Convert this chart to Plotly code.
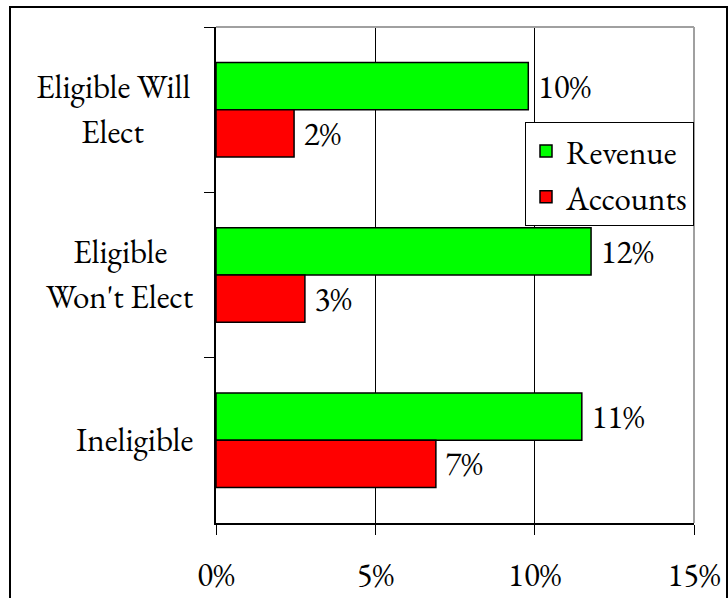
import plotly.graph_objects as go

# Category labels (top to bottom) and the line pieces shown beside the axis
categories = ["Eligible Will Elect", "Eligible Won't Elect", "Ineligible"]
label_lines = [["Eligible Will", "Elect"], ["Eligible", "Won't Elect"], ["Ineligible"]]

# Shares by segment
revenue = [0.098, 0.1177, 0.1148]
accounts = [0.0245, 0.0279, 0.069]

x_ticks = [0, 0.05, 0.10, 0.15]

FONT = "Garamond, 'EB Garamond', 'Liberation Serif', serif"
FS = 33

W, H = 728, 598
L, R, T, B = 216, 34, 27, 75
PW = W - L - R
PH = H - T - B


def paper_x(px):
    return (px - L) / PW


def paper_y(py):
    return (H - B - py) / PH


fig = go.Figure()
fig.add_trace(go.Bar(
    name="Revenue", y=categories, x=revenue, orientation="h",
    marker=dict(color="#00ff00", line=dict(color="black", width=1.5)),
    texttemplate="\u00a0%{x:.0%}", textposition="outside",
    textfont=dict(family=FONT, size=FS, color="black"),
    cliponaxis=False, legendgroup="rev",
))
fig.add_trace(go.Bar(
    name="Accounts", y=categories, x=accounts, orientation="h",
    marker=dict(color="#ff0000", line=dict(color="black", width=1.5)),
    texttemplate="\u00a0%{x:.0%}", textposition="outside",
    textfont=dict(family=FONT, size=FS, color="black"),
    cliponaxis=False, legendgroup="acc",
))

# Category labels: each block sits left of the axis, its lines centred within it
block_centres = [113, 120, 134]
line_step = 45
annotations = []
for cat, lines, cx in zip(categories, label_lines, block_centres):
    n = len(lines)
    for i, txt in enumerate(lines):
        offset = (i - (n - 1) / 2) * line_step
        annotations.append(dict(
            x=paper_x(cx), xref="paper", y=cat, yref="y", text=txt,
            showarrow=False, xanchor="center", yanchor="middle",
            yshift=-offset + 1,
            font=dict(family=FONT, size=FS, color="black"),
        ))

shapes = [
    # plot-area frame on top and right
    dict(type="line", xref="paper", yref="paper", x0=0, x1=1, y0=1, y1=1,
         line=dict(color="#a0a0a0", width=2), layer="above"),
    dict(type="line", xref="paper", yref="paper", x0=1, x1=1, y0=0, y1=1,
         line=dict(color="#a0a0a0", width=2), layer="above"),
    # outer chart border
    dict(type="rect", xref="paper", yref="paper",
         x0=paper_x(10), x1=paper_x(727), y0=paper_y(606), y1=paper_y(7),
         line=dict(color="black", width=2), fillcolor="rgba(0,0,0,0)",
         layer="above"),
]

fig.update_layout(
    width=W, height=H,
    margin=dict(l=L, r=R, t=T, b=B, pad=0, autoexpand=False),
    paper_bgcolor="white", plot_bgcolor="white",
    barmode="group", bargap=0.428, bargroupgap=0,
    font=dict(family=FONT, size=FS, color="black"),
    showlegend=True,
    legend=dict(
        x=1, xanchor="right", y=paper_y(122), yanchor="top",
        bgcolor="white", bordercolor="black", borderwidth=1,
        font=dict(family=FONT, size=FS, color="black"),
        tracegroupgap=4, traceorder="normal",
    ),
    annotations=annotations,
    shapes=shapes,
)
fig.update_xaxes(
    range=[0, 0.15], tickvals=x_ticks, tickformat=".0%",
    showgrid=True, gridcolor="black", gridwidth=1,
    showline=True, linecolor="black", linewidth=1.5,
    ticks="outside", ticklen=10, tickcolor="black", tickwidth=1,
    zeroline=False, ticklabelstandoff=12, automargin=False,
    tickfont=dict(family=FONT, size=FS, color="black"),
)
fig.update_yaxes(
    type="category", categoryorder="array", categoryarray=categories,
    autorange="reversed", showticklabels=False, showgrid=False,
    showline=True, linecolor="black", linewidth=1.5,
    ticks="outside", ticklen=10, tickcolor="black", tickson="boundaries",
    zeroline=False, automargin=False,
)

fig.write_html("out.html")
